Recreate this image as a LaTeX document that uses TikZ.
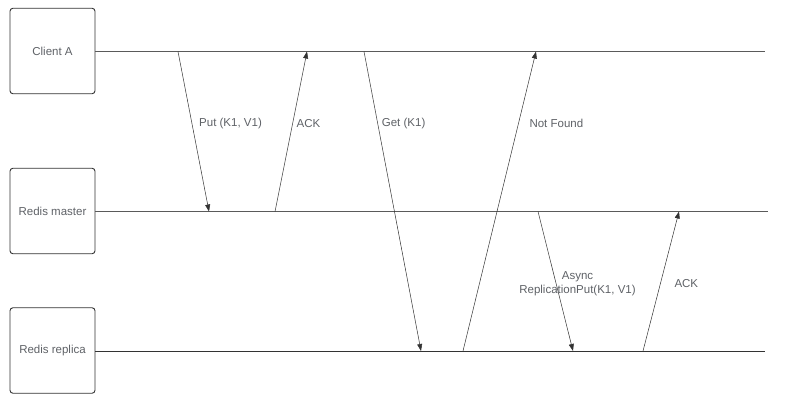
\documentclass[tikz,border=0pt]{standalone}
\usepackage{fontspec}
\setmainfont{Liberation Sans}
\usetikzlibrary{arrows.meta}
\definecolor{txt}{HTML}{5E6166}
\definecolor{ln}{HTML}{5A5A5A}
\definecolor{dk}{HTML}{333333}
\begin{document}
\begin{tikzpicture}[x=1pt,y=-1pt,
  actor/.style={draw=dk,line width=0.9pt,rounded corners=3pt,minimum width=85pt,minimum height=85.5pt,inner sep=0pt,text=txt,font=\fontsize{11.5}{13}\selectfont},
  life/.style={draw=ln,line width=1.3pt},
  lifedk/.style={draw=dk,line width=1pt},
  msg/.style={draw=dk,line width=0.5pt,-{Triangle[length=7pt,width=5pt]}},
  lbl/.style={text=txt,font=\fontsize{11.5}{13}\selectfont,inner sep=0pt,anchor=west},
]
\useasboundingbox (0,0) rectangle (786,404);
\node[actor] (ca) at (52.5,51) {Client A};
\node[actor] (rm) at (52.5,211) {Redis master};
\node[actor] (rr) at (52.5,350.5) {Redis replica};
% lifelines
\coordinate (caE) at (765,51.5);
\coordinate (rmE) at (768,211.5);
\coordinate (rrE) at (765,351);
\draw[life] (ca.east |- caE) -- (caE);
\draw[life] (rm.east |- rmE) -- (rmE);
\draw[lifedk] (rr.east |- rrE) -- (rrE);
% message endpoints
\coordinate (p1) at (178,51.5);  \coordinate (p2) at (209,211.5);
\coordinate (a1) at (275,211.5); \coordinate (a2) at (307,51.5);
\coordinate (g1) at (364,51.5);  \coordinate (g2) at (421,351);
\coordinate (n1) at (463,351);   \coordinate (n2) at (536,51.5);
\coordinate (r1) at (538,211.5); \coordinate (r2) at (573,351);
\coordinate (k1) at (643,351);   \coordinate (k2) at (679,211.5);
\draw[msg] (p1) -- (p2);
\draw[msg] (a1) -- (a2);
\draw[msg] (g1) -- (g2);
\draw[msg] (n1) -- (n2);
\draw[msg] (r1) -- (r2);
\draw[msg] (k1) -- (k2);
% labels
\node[lbl] (lp) at (199,123.5) {Put (K1, V1)};
\node[lbl] (la) at (296.5,123.5) {ACK};
\node[lbl] (lg) at (381.7,123.5) {Get (K1)};
\node[lbl] (ln) at (529.3,123.5) {Not Found};
\node[text=txt,font=\fontsize{11.5}{14}\selectfont,inner sep=0pt,align=center] (lr) at (577.5,284) {Async\\ReplicationPut(K1, V1)};
\node[lbl] (lk) at (674.3,284) {ACK};
\end{tikzpicture}
\end{document}
